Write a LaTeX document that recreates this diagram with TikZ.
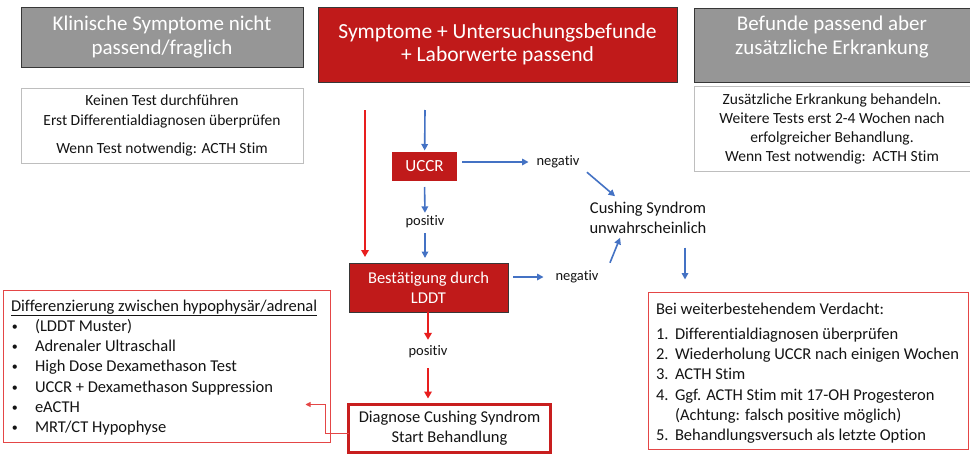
\documentclass[tikz,border=0pt]{standalone}
\usepackage{fontspec}
\setmainfont{Carlito}[RawFeature={-liga;-clig;-calt;-dlig}]
\usetikzlibrary{arrows.meta}
\definecolor{boxred}{RGB}{192,26,26}
\definecolor{boxgray}{RGB}{150,150,150}
\definecolor{boxdark}{RGB}{55,55,55}
\definecolor{lightframe}{RGB}{190,190,190}
\definecolor{arrowblue}{RGB}{68,114,196}
\definecolor{arrowred}{RGB}{232,30,30}
\definecolor{thinred}{RGB}{228,70,70}
\definecolor{diagred}{RGB}{200,30,30}
\definecolor{txt}{RGB}{20,20,20}
\newcommand{\smallbullet}{\raisebox{1.2pt}{\fontsize{12}{12}\selectfont •}}
\begin{document}
\begin{tikzpicture}[x=1pt,y=-1pt,
  every node/.style={inner sep=0pt, outer sep=0pt, text=txt},
  graybox/.style={draw=boxdark, fill=boxgray, line width=1pt, text=white},
  redbox/.style={draw=boxdark, fill=boxred, line width=1pt, text=white},
  whitebox/.style={draw=lightframe, fill=white, line width=0.9pt},
  thinredbox/.style={draw=thinred, line width=0.9pt},
  diagbox/.style={draw=diagred, line width=3pt, fill=white},
  bigtext/.style={font=\fontsize{21}{24}\selectfont, align=center},
  midtext/.style={font=\fontsize{16.5}{20}\selectfont},
  smalltext/.style={font=\fontsize{15.5}{19.5}\selectfont, align=center},
  lbltext/.style={font=\fontsize{14.5}{17}\selectfont},
  barrow/.style={draw=arrowblue, line width=1.6pt, -{Triangle[length=6.5pt,width=6.5pt]}},
  rarrow/.style={draw=arrowred, line width=1.9pt, -{Triangle[length=7pt,width=7.5pt]}},
  thinarrow/.style={draw=thinred, line width=0.9pt, -{Triangle[length=5pt,width=5pt]}},
]
\useasboundingbox[fill=white] (0,0) rectangle (970,455);

% top row
\node[graybox, bigtext, minimum width=282pt, minimum height=60pt] (gl) at (162,37.5)
  {Klinische Symptome nicht\\passend/fraglich};
\node[redbox, bigtext, font=\fontsize{21.5}{23.5}\selectfont, minimum width=359pt, minimum height=75pt] (rt) at (497.5,44.5)
  {Symptome + Untersuchungsbefunde\\+ Laborwerte passend};
\node[graybox, minimum width=278pt, minimum height=74pt] (gr) at (833,45) {};
\node[bigtext, text=white] (grt) at (832,37.5) {Befunde passend aber\\zusätzliche Erkrankung};

% white info boxes
\node[whitebox, smalltext, minimum width=282pt, minimum height=75pt] (wl) at (162,125.5)
  {Keinen Test durchführen\\Erst Differentialdiagnosen überprüfen\\[9pt]Wenn Test notwendig: ACTH Stim};
\node[whitebox, smalltext, font=\fontsize{15.5}{19}\selectfont, minimum width=276pt, minimum height=85pt] (wr) at (832,128.5)
  {Zusätzliche Erkrankung behandeln.\\Weitere Tests erst 2-4 Wochen nach\\erfolgreicher Behandlung.\\Wenn Test notwendig:\ \ ACTH Stim};

% central flow
\node[fill=boxred, text=white, midtext, font=\fontsize{17}{20}\selectfont, minimum width=65pt, minimum height=29pt] (uccr) at (424.5,166.5) {UCCR};
\node[lbltext] (neg1) at (558,162) {negativ};
\node[lbltext] (pos1) at (425,222) {positiv};
\node[midtext, align=center] (cush) at (648,218) {Cushing Syndrom\\unwahrscheinlich};
\node[redbox, midtext, align=center, minimum width=159pt, minimum height=49pt] (lddt) at (428.5,287.5)
  {Bestätigung durch\\LDDT};
\node[lbltext] (neg2) at (577,277) {negativ};
\node[lbltext] (pos2) at (428,352) {positiv};
\node[diagbox, midtext, align=center, minimum width=202pt, minimum height=48pt] (diag) at (449.5,428.5)
  {Diagnose Cushing Syndrom\\Start Behandlung};

% left list box
\node[thinredbox, minimum width=327pt, minimum height=152pt, anchor=north west] (diff) at (3.5,290) {};
\node[midtext, anchor=base west] (dhead) at (11,311) {\underline{Differenzierung zwischen hypophysär/adrenal}};
\foreach \t [count=\i] in {(LDDT Muster),Adrenaler Ultraschall,High Dose Dexamethason Test,UCCR + Dexamethason Suppression,eACTH,MRT/CT Hypophyse}{
  \node[midtext, anchor=base west] (db\i) at (12,311+20.3*\i) {\smallbullet};
  \node[midtext, anchor=base west] (d\i) at (35,311+20.3*\i) {\t};
}

% right list box
\node[thinredbox, minimum width=320pt, minimum height=157pt, anchor=north west] (rbox) at (648,292.5) {};
\node[midtext, anchor=base west] (rhead) at (656,314) {Bei weiterbestehendem Verdacht:};
\foreach \n/\t [count=\i] in {1./Differentialdiagnosen überprüfen,2./Wiederholung UCCR nach einigen Wochen,3./ACTH Stim,4./Ggf. ACTH Stim mit 17-OH Progesteron,/(Achtung: falsch positive möglich),5./Behandlungsversuch als letzte Option}{
  \node[midtext, anchor=base west] (rn\i) at (656,319+20.3*\i) {\n};
  \node[midtext, anchor=base west] (r\i) at (675,319+20.3*\i) {\t};
}

% connectors
\coordinate (bstart) at (425,110);
\coordinate (rstart) at (365,110);
\coordinate (rend) at (365,257);
\draw[barrow, shorten >=1.5pt] (bstart) -- (uccr);
\draw[rarrow] (rstart) -- (rend);
\draw[barrow, shorten <=5pt, shorten >=8pt] (uccr.east |- neg1) -- (neg1.west);
\draw[barrow] ([shift={(7.5,4)}]neg1.south east) -- ([shift={(25.5,-6)}]cush.north west);
\draw[barrow, shorten <=6pt, shorten >=3pt] (uccr.south) -- (pos1.north);
\draw[barrow, shorten <=5pt, shorten >=5pt] (pos1.south) -- (pos1 |- lddt.north);
\draw[barrow, shorten <=5pt, shorten >=12pt] (lddt.east |- neg2) -- (neg2.west);
\draw[barrow] ([shift={(11.5,-8)}]neg2.north east) -- ([shift={(30.5,4)}]cush.south west);
\draw[barrow] ([shift={(37,-45)}]rbox.north west) -- ([shift={(37,-13)}]rbox.north west);
\draw[rarrow, shorten >=6pt] (lddt.south -| pos2) -- (pos2.north);
\draw[rarrow, shorten <=10pt, shorten >=6pt] (pos2.south) -- (pos2 |- diag.north);
\draw[thinarrow] ([shift={(0,4.5)}]diag.west) -| ([shift={(-23,-24)}]diag.west) -- ([shift={(-43,-24)}]diag.west);
\end{tikzpicture}
\end{document}
